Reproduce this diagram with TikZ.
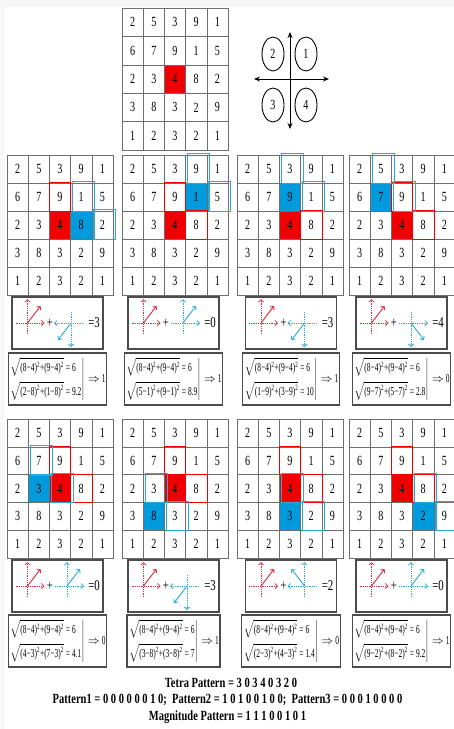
\documentclass[tikz,border=0pt]{standalone}
\usepackage{fontspec}
\setmainfont{Liberation Serif}
\newfontfamily\cellfont[FakeStretch=0.72]{Liberation Serif}
\newfontfamily\capfont[FakeStretch=0.75]{Liberation Serif}
\newfontfamily\fmlfont[FakeStretch=0.62]{Liberation Serif}
\usetikzlibrary{arrows.meta,shapes.geometric,backgrounds}

\definecolor{cellred}{RGB}{240,0,0}
\definecolor{cellblue}{RGB}{0,155,220}
\definecolor{vecred}{RGB}{215,40,60}
\definecolor{vecblue}{RGB}{40,170,215}
\definecolor{gridgray}{RGB}{110,110,110}

% 5x5 grid of intensities, top left at (#2,#3), row height #4
\newcommand\intgrid[4]{%
  \foreach \row [count=\r from 0] in {{2,5,3,9,1},{6,7,9,1,5},{2,3,4,8,2},{3,8,3,2,9},{1,2,3,2,1}}
    \foreach \v [count=\c from 0] in \row
      \node[cell, minimum height=#4pt] (#1-\r-\c) at (#2+21.2*\c+10.6, #3+#4*\r+#4/2) {\v};
}
% one neighbour step: name, left, top, row height, blue cell, red boxes, blue boxes
\newcommand\panel[7]{%
  \intgrid{#1}{#2}{#3}{#4}
  \begin{scope}[on background layer]
    \fill[cellred] (#1-2-2.north west) rectangle (#1-2-2.south east);
    \fill[cellblue] (#1-#5.north west) rectangle (#1-#5.south east);
  \end{scope}
  \foreach \k in {#6} \draw[redline] (#1-\k.north west) rectangle (#1-\k.south east);
  \foreach \k in {#7} \draw[blueline] ([shift={(2.5pt,1pt)}]#1-\k.north west) rectangle ([shift={(2.5pt,0pt)}]#1-\k.south east);
}
% direction glyph: origin, colour, x sense, y sense
\newcommand\vdiag[4]{%
  \draw[axis,#2] (#1) ++({-12*#3},0) -- ++({29*#3},0);
  \draw[axis,#2] (#1) ++(0,{11*#4}) -- ++(0,{-35*#4});
  \draw[vec,#2] (#1) -- ++({13*#3},{-17*#4});
}
% name, centre x, centre y, x sense, y sense, tetra code
\newcommand\vecbox[6]{%
  \node[vbox] (#1) at (#2,#3) {};
  \coordinate (#1-r) at ([xshift=-30pt]#1.center);
  \coordinate (#1-b) at ([xshift={11.5-2*#4}]#1.center);
  \vdiag{#1-r}{vecred}{1}{1}
  \vdiag{#1-b}{vecblue}{#4}{#5}
  \node[sym] (#1-p) at ([xshift=-7.5pt]#1.center) {+};
  \node[sym] (#1-e) at ([xshift=36.5pt]#1.center) {=#6};
}
\newcommand\sq[2]{(#1−#2)\textsuperscript{2}}
% name, centre x, centre y, second root, value, bit
\newcommand\formula[6]{%
  \node[fbx] (#1) at (#2,#3) {$\left.\begin{array}{@{}l@{}}
    \sqrt{\hbox{\sq84+\sq94}}\hbox{\,=\,6}\\[6pt]
    \sqrt{\hbox{#4}}\hbox{\,=\,#5}\end{array}\right|\Rightarrow$\,#6};
}

\begin{document}
\begin{tikzpicture}[x=1pt, y=-1pt,
  cell/.style={draw=gridgray, line width=0.6pt, minimum width=21.2pt, inner sep=0pt,
    font=\fontsize{14}{14}\selectfont\cellfont},
  redline/.style={draw=cellred, line width=1.1pt},
  blueline/.style={draw=vecblue, line width=1.2pt},
  axis/.style={densely dotted, line width=0.8pt, -{Straight Barb[length=2.5pt,width=5pt]}},
  vec/.style={line width=0.9pt, -{Straight Barb[length=2.5pt,width=5pt]}},
  vbox/.style={draw=black!70, line width=1.4pt, minimum width=91pt, minimum height=52pt},
  fbx/.style={draw=black!70, line width=1.4pt, minimum width=91pt, minimum height=52pt,
    inner sep=1pt, font=\fontsize{12}{14}\selectfont\fmlfont},
  sym/.style={inner sep=0pt, font=\fontsize{15}{15}\selectfont\cellfont},
  quad/.style={draw, ellipse, line width=0.9pt, minimum width=22pt, minimum height=34pt,
    inner sep=0pt, font=\fontsize{14}{14}\selectfont\cellfont},
  dbl/.style={line width=1pt, {Stealth[length=6pt,width=5pt]}-{Stealth[length=6pt,width=5pt]}},
  caption/.style={font=\fontsize{14}{14}\selectfont\capfont\bfseries}]
\useasboundingbox (0,0) rectangle (454,729);
\begin{scope}[on background layer]
  \fill[white] (0,0) rectangle (454,729);
  \fill[gray!8] (0,0) rectangle (454,7);
  \fill[gray!6] (0,7) rectangle (5,729);
\end{scope}

% original neighbourhood
\intgrid{t}{122}{8}{28.4}
\begin{scope}[on background layer]
  \fill[cellred] (t-2-2.north west) rectangle (t-2-2.south east);
\end{scope}

% quadrant directions
\coordinate (qw) at (254,79);
\coordinate (qe) at (329,79);
\coordinate (qn) at (290,32);
\coordinate (qs) at (290,129);
\draw[dbl] (qw) -- (qe);
\draw[dbl] (qn) -- (qs);
\node[quad] (q1) at (306,54) {1};
\node[quad] (q2) at (273,54) {2};
\node[quad] (q3) at (273,105) {3};
\node[quad] (q4) at (306,105) {4};

% eight neighbours
\panel{p1}{7}{155}{28}{2-3}{1-2}{1-3,2-4}
\panel{p2}{122}{155}{28}{1-3}{1-2,2-3}{0-3,1-4}
\panel{p3}{237}{155}{28}{1-2}{2-3}{0-2,1-3}
\panel{p4}{349}{155}{28}{1-1}{1-2,2-3}{0-1,1-2}
\panel{p5}{7}{419}{27.8}{2-1}{1-2,2-3}{1-1,2-2}
\panel{p6}{122}{419}{27.8}{3-1}{1-2,2-3}{2-1,3-2}
\panel{p7}{237}{419}{27.8}{3-2}{1-2,2-3}{2-2,3-3}
\panel{p8}{349}{419}{27.8}{3-3}{1-2,2-3}{2-3,3-4}

\vecbox{v1}{57.5}{323}{-1}{-1}{3}
\vecbox{v2}{173.5}{323}{1}{1}{0}
\vecbox{v3}{291}{323}{-1}{-1}{3}
\vecbox{v4}{401.5}{323}{1}{-1}{4}
\vecbox{v5}{57.5}{586}{1}{1}{0}
\vecbox{v6}{173.5}{586}{-1}{-1}{3}
\vecbox{v7}{291}{586}{-1}{1}{2}
\vecbox{v8}{401.5}{586}{1}{1}{0}

\formula{f1}{57.5}{379}{\sq28+\sq18}{9.2}{1}
\formula{f2}{173.5}{379}{\sq51+\sq91}{8.9}{1}
\formula{f3}{291}{379}{\sq19+\sq39}{10}{1}
\formula{f4}{401.5}{379}{\sq97+\sq57}{2.8}{0}
\formula{f5}{57.5}{641}{\sq43+\sq73}{4.1}{0}
\formula{f6}{173.5}{641}{\sq38+\sq38}{7}{1}
\formula{f7}{291}{641}{\sq23+\sq43}{1.4}{0}
\formula{f8}{401.5}{641}{\sq92+\sq82}{9.2}{1}

\node[caption] (tetra) at (231,683) {Tetra Pattern = 3 0 3 4 0 3 2 0};
\node[caption] (bits) at (227.5,700) {Pattern1 = 0 0 0 0 0 0 1 0;\ \ Pattern2 = 1 0 1 0 0 1 0 0;\ \ Pattern3 = 0 0 0 1 0 0 0 0};
\node[caption] (magn) at (227.5,717) {Magnitude Pattern = 1 1 1 0 0 1 0 1};
\end{tikzpicture}
\end{document}
